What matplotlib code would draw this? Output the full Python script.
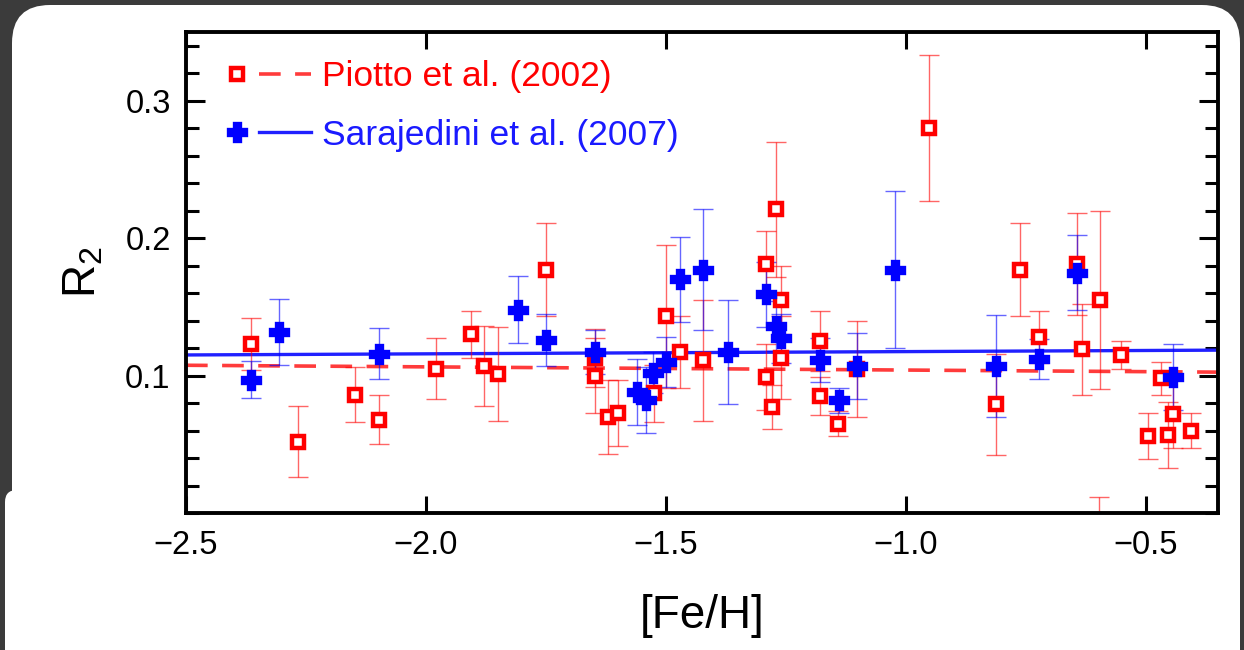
import numpy as np
import matplotlib
matplotlib.use('Agg')
import matplotlib.pyplot as plt
from matplotlib.lines import Line2D
from matplotlib.legend_handler import HandlerBase
from matplotlib.patches import FancyBboxPatch
from matplotlib.transforms import IdentityTransform
from matplotlib.ticker import MultipleLocator, FuncFormatter

plt.rcParams['font.family'] = ['Liberation Sans', 'DejaVu Sans']
plt.rcParams['mathtext.default'] = 'regular'

# Piotto et al. (2002)
piotto_feh = [-2.365, -2.266, -2.148, -2.097, -1.979, -1.907, -1.880, -1.849, -1.749,
              -1.648, -1.648, -1.620, -1.599, -1.525, -1.501, -1.470, -1.422,
              -1.291, -1.291, -1.280, -1.270, -1.260, -1.260, -1.180, -1.180, -1.142,
              -1.102, -0.953, -0.812, -0.763, -0.722, -0.643, -0.634, -0.597, -0.595,
              -0.553, -0.495, -0.468, -0.454, -0.444, -0.406]
piotto_r2 = [0.123, 0.052, 0.086, 0.068, 0.105, 0.130, 0.107, 0.101, 0.177,
             0.113, 0.100, 0.070, 0.073, 0.087, 0.143, 0.117, 0.111,
             0.181, 0.099, 0.077, 0.221, 0.155, 0.113, 0.125, 0.085, 0.065,
             0.105, 0.280, 0.079, 0.177, 0.128, 0.181, 0.119, -0.050, 0.155,
             0.115, 0.056, 0.098, 0.057, 0.072, 0.060]
piotto_err = [0.019, 0.026, 0.020, 0.018, 0.022, 0.017, 0.029, 0.034, 0.034,
              0.021, 0.027, 0.027, 0.024, 0.021, 0.052, 0.026, 0.044,
              0.024, 0.024, 0.016, 0.049, 0.025, 0.030, 0.022, 0.014, 0.009,
              0.035, 0.053, 0.037, 0.034, 0.019, 0.037, 0.033, 0.062, 0.065,
              0.010, 0.017, 0.012, 0.024, 0.025, 0.013]

# Sarajedini et al. (2007)
sara_feh = [-2.365, -2.306, -2.097, -1.808, -1.749, -1.648, -1.560, -1.541, -1.528,
            -1.499, -1.470, -1.422, -1.370, -1.291, -1.270, -1.260, -1.180, -1.140,
            -1.102, -1.022, -0.812, -0.722, -0.643, -0.444]
sara_r2 = [0.097, 0.132, 0.116, 0.148, 0.126, 0.117, 0.088, 0.082, 0.102,
           0.110, 0.170, 0.177, 0.117, 0.159, 0.136, 0.127, 0.111, 0.082,
           0.107, 0.177, 0.107, 0.112, 0.175, 0.099]
sara_err = [0.0135, 0.024, 0.0185, 0.0245, 0.019, 0.016, 0.024, 0.024, 0.015,
            0.018, 0.031, 0.044, 0.038, 0.024, 0.018, 0.018, 0.016, 0.009,
            0.024, 0.057, 0.037, 0.0145, 0.0275, 0.024]

# linear fits
fit_feh = [-2.5, -0.35]
piotto_fit = [0.1075, 0.1025]
sara_fit = [0.1150, 0.1185]

labels = ['Piotto et al. (2002)', 'Sarajedini et al. (2007)']

red = '#ff0000'
blue = '#0000ff'


class MarkerThenLine(HandlerBase):
    def create_artists(self, legend, orig_handle, xdescent, ydescent,
                       width, height, fontsize, trans):
        mk, ln = orig_handle
        y = height / 2.0 - ydescent
        m = Line2D([-xdescent + 0.11 * width], [y])
        m.update_from(mk)
        m.set_transform(trans)
        l = Line2D([-xdescent + 0.37 * width, -xdescent + width], [y, y])
        l.update_from(ln)
        l.set_transform(trans)
        return [m, l]


fig = plt.figure(figsize=(12.44, 6.5), dpi=100)
fig.patch.set_facecolor('#3b3b3b')
fig.patches.append(FancyBboxPatch((12, -60), 1228, 705, boxstyle='round,pad=0,rounding_size=38',
                                  transform=IdentityTransform(), facecolor='white',
                                  edgecolor='none', figure=fig, zorder=-10))
fig.patches.append(FancyBboxPatch((5, -60), 400, 220, boxstyle='round,pad=0,rounding_size=12',
                                  transform=IdentityTransform(), facecolor='white',
                                  edgecolor='none', figure=fig, zorder=-10))

ax = fig.add_axes([186 / 1244, 137 / 650, 1032 / 1244, 481 / 650])
ax.set_facecolor('white')

ax.plot(fit_feh, piotto_fit, color='#ff3b3b', lw=2.6, dashes=(6, 4), zorder=1.5)
ax.plot(fit_feh, sara_fit, color='#2020ff', lw=2.4, zorder=1.6)

ax.errorbar(piotto_feh, piotto_r2, yerr=piotto_err, fmt='none', ecolor=red, alpha=0.6,
            elinewidth=1.0, capsize=7.5, capthick=1.0, zorder=2)
ax.errorbar(sara_feh, sara_r2, yerr=sara_err, fmt='none', ecolor=blue, alpha=0.6,
            elinewidth=1.0, capsize=7.5, capthick=1.0, zorder=2)
sq_style = dict(ls='none', marker='s', ms=9.3, mfc='white', mec=red, mew=3.2)
pl_style = dict(ls='none', marker='P', ms=13.5, mfc=blue, mec=blue, mew=2.4)
ax.plot(piotto_feh, piotto_r2, zorder=3, **sq_style)
ax.plot(sara_feh, sara_r2, zorder=3.5, **pl_style)

ax.set_xlim(-2.5, -0.35)
ax.set_ylim(0.0, 0.35)
ax.xaxis.set_major_locator(MultipleLocator(0.5))
ax.yaxis.set_minor_locator(MultipleLocator(0.02))
ax.set_yticks([0.1, 0.2, 0.3])
fmt = FuncFormatter(lambda v, p: f'{v:.1f}'.replace('-', '\u2212'))
ax.xaxis.set_major_formatter(fmt)
ax.yaxis.set_major_formatter(fmt)

ax.tick_params(axis='both', which='both', direction='in', top=True, right=True,
               width=2.2, colors='black')
ax.tick_params(axis='x', which='major', length=12, pad=12, labelsize=23.5)
ax.tick_params(axis='y', which='major', length=14, pad=11, labelsize=23.5)
ax.tick_params(axis='y', which='minor', length=9.5)
for s in ax.spines.values():
    s.set_linewidth(2.8)

ax.set_xlabel('[Fe/H]', fontsize=33, labelpad=24)
ax.set_ylabel('R$_2$', fontsize=33, labelpad=14)

sq = Line2D([], [], **sq_style)
dash = Line2D([], [], color='#ff3b3b', lw=2.6, dashes=(6, 4))
pl = Line2D([], [], **pl_style)
solid = Line2D([], [], color='#2020ff', lw=2.4)
ax.legend([(sq, dash), (pl, solid)], labels, handler_map={tuple: MarkerThenLine()},
          loc='upper left', bbox_to_anchor=(42 / 1032, 1 - 28 / 481), frameon=False,
          fontsize=25.5, handlelength=2.35, handletextpad=0.3, labelspacing=0.72,
          borderaxespad=0, borderpad=0, labelcolor=[red, '#1a1aff'])

fig.savefig('out.png', dpi=100, facecolor=fig.get_facecolor())
